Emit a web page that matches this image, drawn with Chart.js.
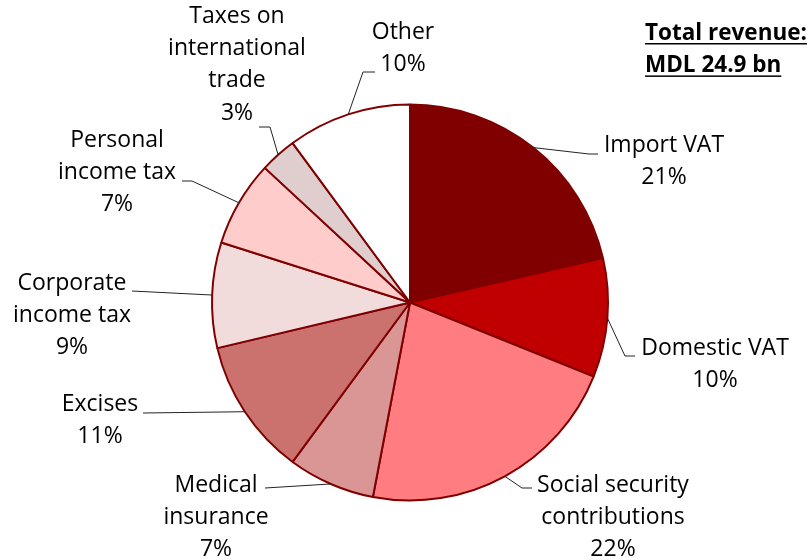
<!DOCTYPE html>
<html>
<head>
<meta charset="utf-8">
<script src="https://cdn.jsdelivr.net/npm/chart.js@4.4.1/dist/chart.umd.min.js"></script>
<style>
  html, body { margin: 0; padding: 0; background: #fff; }
  #wrap { width: 809px; height: 560px; position: relative; }
</style>
</head>
<body>
<div id="wrap"><canvas id="revenueChart"></canvas></div>
<script>
// Revenue structure, share of total (%)
const categories = ['Import VAT', 'Domestic VAT', 'Social security contributions', 'Medical insurance',
    'Excises', 'Corporate income tax', 'Personal income tax', 'Taxes on international trade', 'Other'];
const shares = [21.4, 9.7, 21.9, 7.1, 11.2, 8.6, 7.0, 3.0, 10.1];
const sliceColors = ['#800000', '#C00000', '#FF7C80', '#DA9694', '#CB726F', '#F2DCDB', '#FFCCCC', '#E0CDCD', '#FFFFFF'];
const titleLines = ['Total revenue:', 'MDL 24.9 bn'];

// label placement: wrapped text, text centre, leader elbow and end
const labelLayout = [
    { wrap: ['Import VAT'], x: 664, y: 145, elbow: [589, 154], end: [598, 154] },
    { wrap: ['Domestic VAT'], x: 715, y: 348, elbow: [625, 356], end: [635, 356] },
    { wrap: ['Social security', 'contributions'], x: 613, y: 485, elbow: [522, 488], end: [532, 488] },
    { wrap: ['Medical', 'insurance'], x: 216, y: 485, elbow: [265, 488], end: [265, 488] },
    { wrap: ['Excises'], x: 100, y: 404, elbow: [143, 413], end: [143, 413] },
    { wrap: ['Corporate', 'income tax'], x: 72, y: 283, elbow: [132, 291], end: [132, 291] },
    { wrap: ['Personal', 'income tax'], x: 117, y: 140, elbow: [192, 181], end: [182, 181] },
    { wrap: ['Taxes on', 'international', 'trade'], x: 237, y: 16, elbow: [270, 127], end: [259, 127] },
    { wrap: ['Other'], x: 403, y: 32, elbow: [363, 72], end: [375, 72] }
];

const FONT = '"Open Sans", Lato, sans-serif';
const LINE_H = 32.4;

const labelPlugin = {
    id: 'sliceLabels',
    afterDatasetsDraw(chart) {
        const ctx = chart.ctx;
        const arcs = chart.getDatasetMeta(0).data;
        ctx.save();
        arcs.forEach((arc, i) => {
            const lay = labelLayout[i];
            const mid = (arc.startAngle + arc.endAngle) / 2;
            const sx = arc.x + Math.cos(mid) * arc.outerRadius;
            const sy = arc.y + Math.sin(mid) * arc.outerRadius;
            ctx.strokeStyle = '#222';
            ctx.lineWidth = 1;
            ctx.beginPath();
            ctx.moveTo(sx, sy);
            ctx.lineTo(lay.elbow[0], lay.elbow[1]);
            ctx.lineTo(lay.end[0], lay.end[1]);
            ctx.stroke();

            const lines = lay.wrap.concat([Math.round(shares[i]) + '%']);
            ctx.fillStyle = '#000';
            ctx.font = '23px ' + FONT;
            ctx.textAlign = 'center';
            ctx.textBaseline = 'middle';
            lines.forEach((t, k) => ctx.fillText(t, lay.x, lay.y + k * LINE_H));
        });

        // total revenue box, bold and underlined
        ctx.font = 'bold 22.5px ' + FONT;
        ctx.textAlign = 'left';
        ctx.textBaseline = 'alphabetic';
        titleLines.forEach((t, k) => {
            const y = 40 + k * LINE_H;
            ctx.fillText(t, 645, y);
            const w = ctx.measureText(t).width;
            ctx.fillRect(645, y + 3, w, 1.5);
        });
        ctx.restore();
    }
};

new Chart(document.getElementById('revenueChart'), {
    type: 'pie',
    data: {
        labels: categories,
        datasets: [{
            data: shares,
            backgroundColor: sliceColors,
            borderColor: '#7F0000',
            borderWidth: 2
        }]
    },
    options: {
        responsive: true,
        maintainAspectRatio: false,
        animation: false,
        layout: { padding: { top: 103.5, bottom: 58.5, left: 211, right: 200 } },
        plugins: {
            legend: { display: false },
            tooltip: { enabled: false }
        }
    },
    plugins: [labelPlugin]
});
</script>
</body>
</html>
